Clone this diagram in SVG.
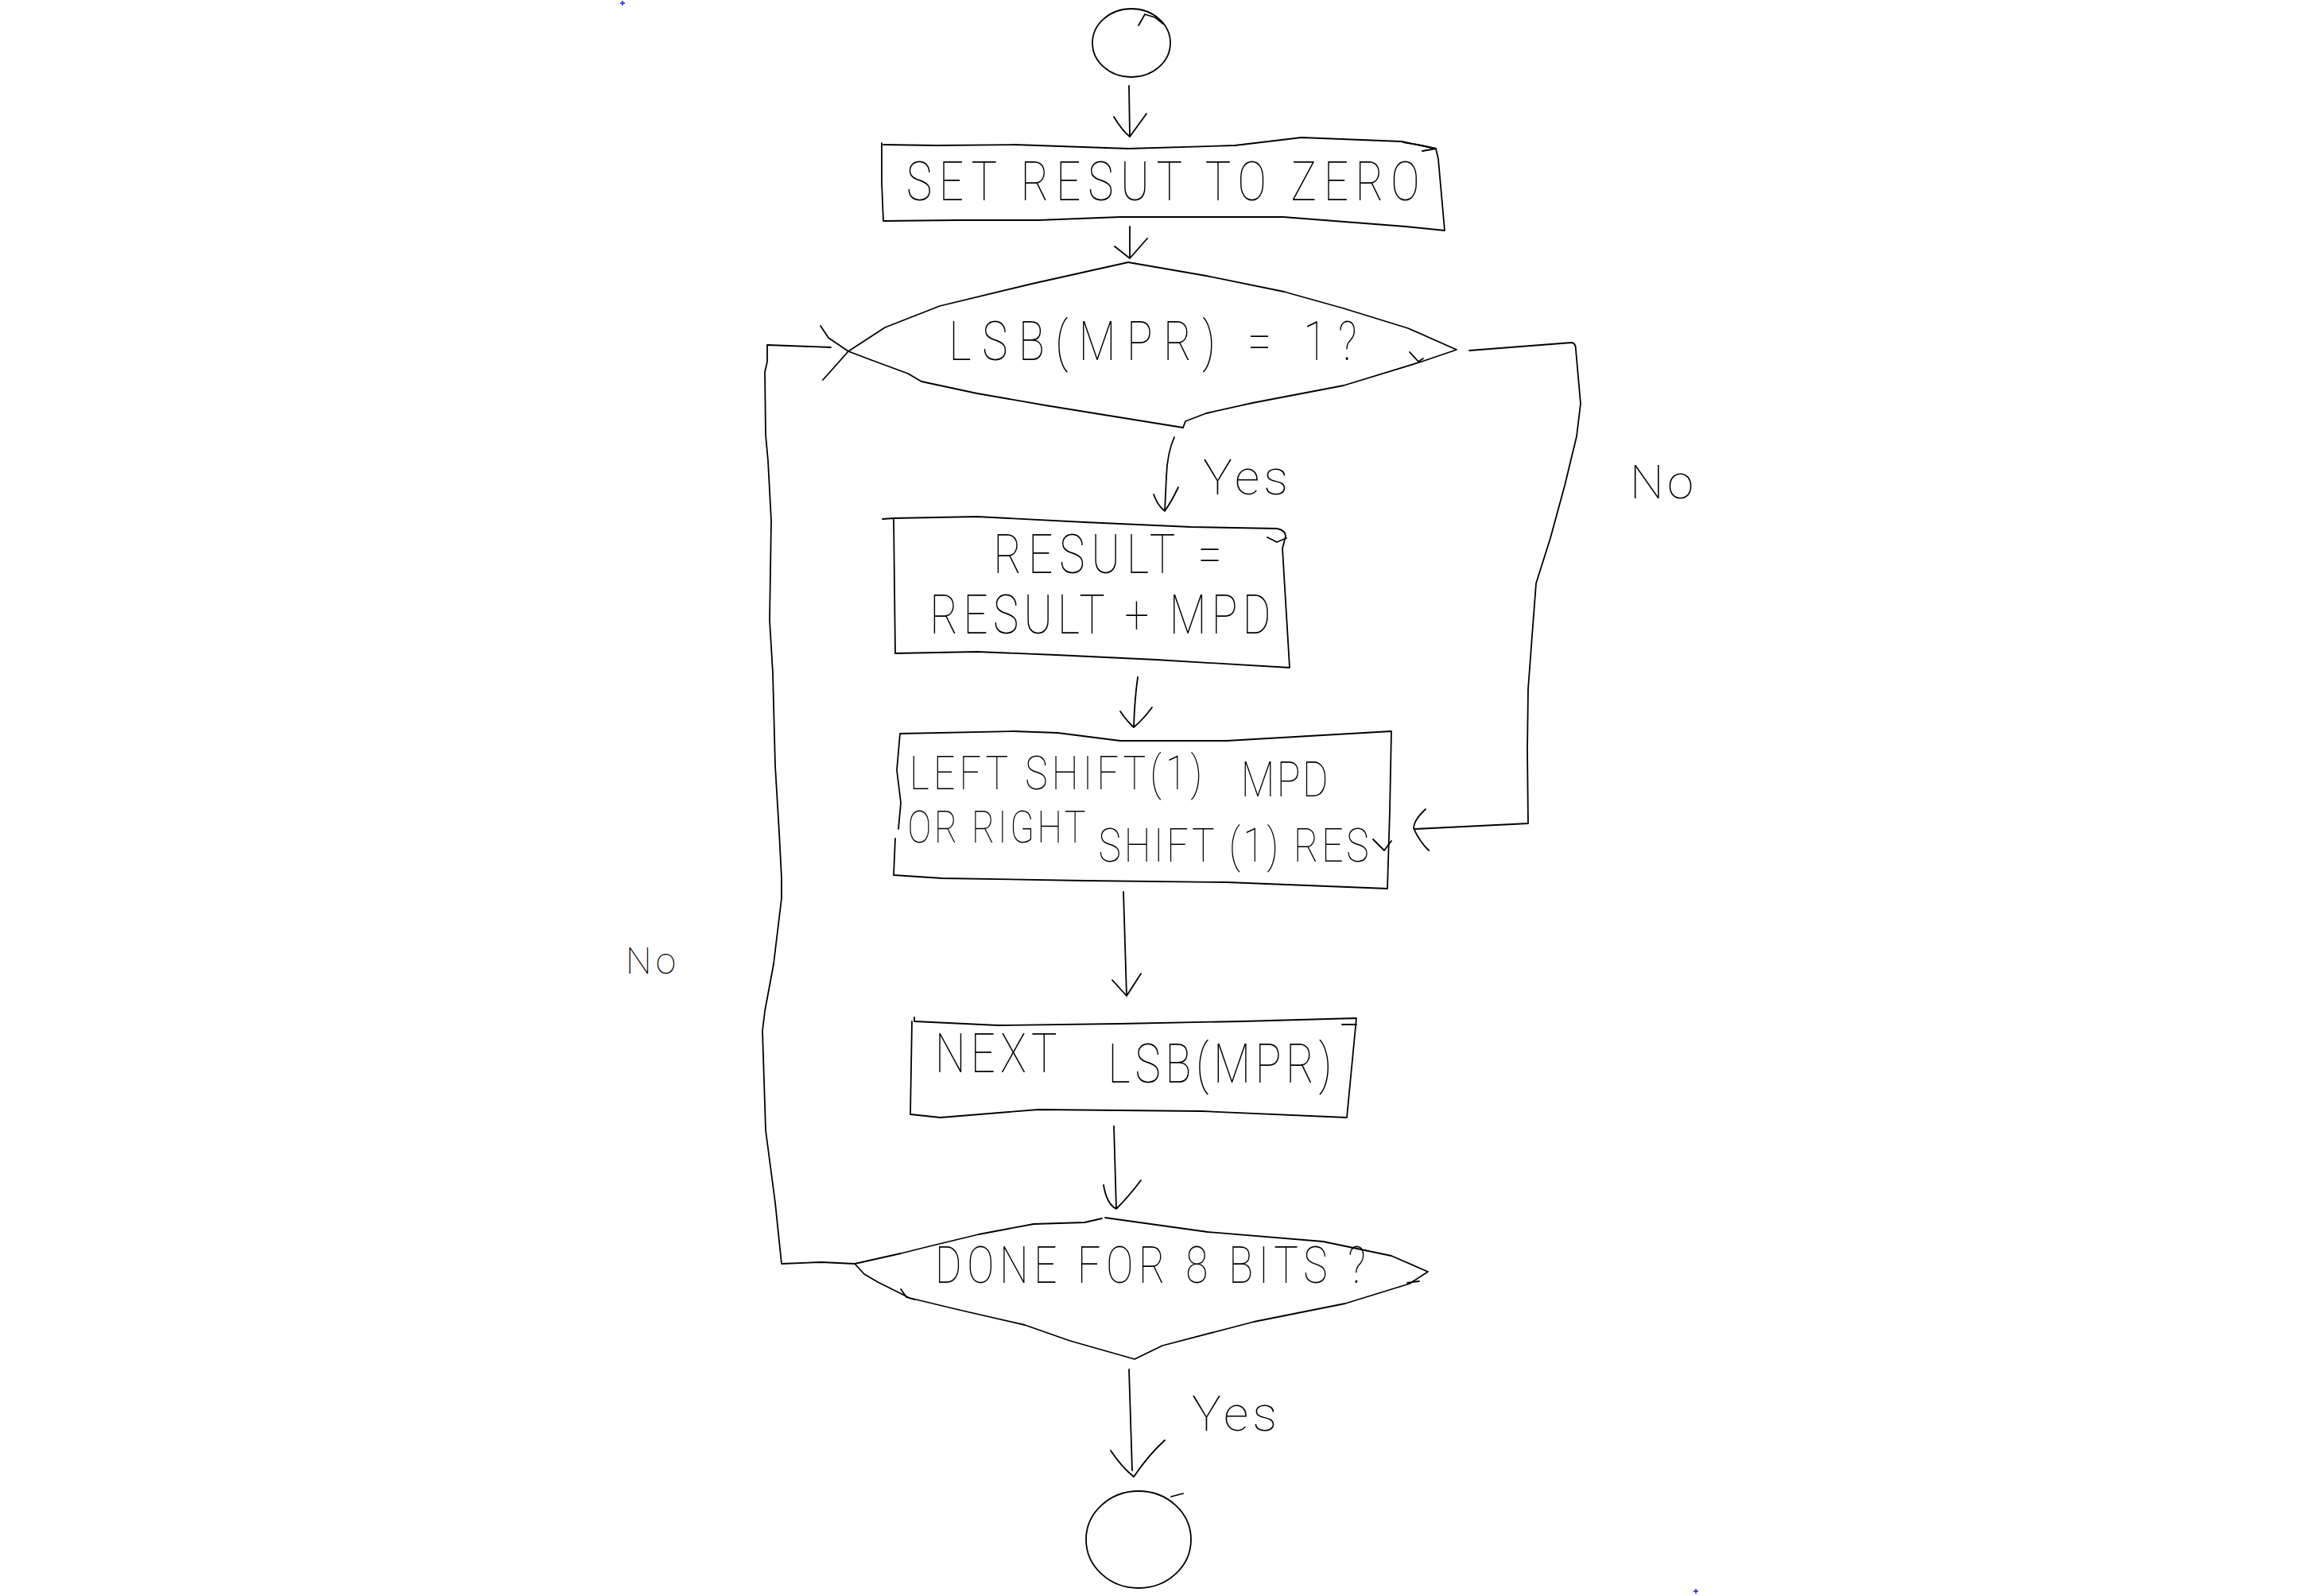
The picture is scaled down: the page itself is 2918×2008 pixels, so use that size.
<svg xmlns="http://www.w3.org/2000/svg" width="2918" height="2008" viewBox="0 0 2918 2008">
  <style>
    .ln { fill: none; stroke: #000; stroke-width: 1.8; stroke-linejoin: round; stroke-linecap: round; }
    .t { font-family: Roboto, "Open Sans", "Liberation Sans", sans-serif; font-weight: 100; fill: #000; }
    .mk { fill: none; stroke: #1a1aff; stroke-width: 1.5; }
  </style>
  <rect width="2918" height="2008" fill="#fff"/>

  <!-- corner registration ticks -->
  <path class="mk" d="M780,4 H786 M783,1 V7"/>
  <path class="mk" d="M2130,2002 H2136 M2133,1999 V2005"/>

  <!-- box texts use narrow glyphs: x positions and lengths are in the 0.8-scaled space -->
  <g id="start">
    <ellipse class="ln" cx="1423" cy="54" rx="49" ry="43"/>
    <path class="ln" d="M1432,32 L1440,18 L1453,22 L1463,30"/>
  </g>

  <g id="set-result">
    <path class="ln" d="M1111,182 L1178,183 L1276,182 L1419,187 L1553,183 L1637,173 L1763,178 L1806,187 L1809,200 L1817,290 L1768,285 L1614,273 L1486,273 L1409,273 L1306,277 L1204,277 L1111,278 L1109,230 L1109,180"/>
    <path class="ln" d="M1765,179 L1788,183 L1806,187 M1789,190 L1806,187"/>
    <text class="t" transform="scale(0.8,1)" x="1425" y="252" font-size="68" textLength="807" lengthAdjust="spacing">SET RESUT TO ZERO</text>
  </g>

  <g id="lsb-check">
    <path class="ln" d="M1419,330 L1517,347 L1615,367 L1690,388 L1771,413 L1832,440 L1788,455 L1690,485 L1575,507 L1517,520 L1491,530 L1488,538"/>
    <path class="ln" d="M1488,538 L1315,510 L1229,495 L1159,480 L1142,470 L1096,453 L1067,442 L1042,425 L1032,410"/>
    <path class="ln" d="M1419,330 L1298,357 L1182,385 L1113,412 L1067,442 L1035,478"/>
    <path class="ln" d="M1773,443 L1784,455 L1790,451"/>
    <text class="t" transform="scale(0.8,1)" x="1492" y="453" font-size="68" textLength="641" lengthAdjust="spacing">LSB(MPR) = 1?</text>
  </g>

  <g id="add-mpd">
    <path class="ln" d="M1110,653 L1124,652 L1229,650 L1364,657 L1498,663 L1606,665 Q1617,667 1617,675 L1613,690 L1622,840 L1454,830 L1328,824 L1229,820 L1126,822 L1124,652"/>
    <path class="ln" d="M1594,676 L1606,682 L1618,677"/>
    <text class="t" transform="scale(0.8,1)" x="1562" y="721" font-size="68" textLength="359" lengthAdjust="spacing">RESULT =</text>
    <text class="t" transform="scale(0.8,1)" x="1462" y="797" font-size="68" textLength="536" lengthAdjust="spacing">RESULT + MPD</text>
  </g>

  <g id="shift">
    <path class="ln" d="M1130,1043 L1133,1010 L1128,969 L1132,923 L1274,920 L1330,922 L1409,932 L1543,932 L1750,920 L1748,1020 L1745,1118 L1543,1110 L1364,1108 L1185,1105 L1124,1101 L1126,1055"/>
    <path class="ln" d="M1727,1056 L1741,1070 L1750,1058"/>
    <text class="t" transform="scale(0.8,1)" x="1430" y="993" font-size="60" textLength="460" lengthAdjust="spacing">LEFT SHIFT(1)</text>
    <text class="t" transform="scale(0.8,1)" x="1951" y="1002" font-size="62" textLength="137" lengthAdjust="spacing">MPD</text>
    <text class="t" transform="scale(0.8,1)" x="1427" y="1060" font-size="56" textLength="280" lengthAdjust="spacing">OR RIGHT</text>
    <text class="t" transform="scale(0.8,1)" x="1727" y="1084" font-size="60" textLength="425" lengthAdjust="spacing">SHIFT (1) RES</text>
  </g>

  <g id="next-bit">
    <path class="ln" d="M1150,1280 L1150,1285 L1255,1290 L1409,1288 L1563,1285 L1706,1281 L1694,1406 L1512,1398 L1306,1396 L1183,1406 L1145,1402 L1147,1285"/>
    <path class="ln" d="M1688,1289 L1706,1289"/>
    <text class="t" transform="scale(0.8,1)" x="1470" y="1349" font-size="68" textLength="192" lengthAdjust="spacing">NEXT</text>
    <text class="t" transform="scale(0.8,1)" x="1742" y="1362" font-size="68" textLength="352" lengthAdjust="spacing">LSB(MPR)</text>
  </g>

  <g id="done-check">
    <path class="ln" d="M1386,1533 L1364,1538 L1300,1540 L1231,1553 L1173,1567 L1133,1577 L1075,1590 L1087,1603 L1104,1613 L1144,1633 L1202,1647 L1289,1667 L1346,1687 L1427,1710 L1462,1693 L1577,1663 L1692,1640 L1773,1615 L1796,1600 L1750,1580 L1664,1562 L1519,1550 L1390,1532"/>
    <path class="ln" d="M1133,1622 L1140,1632 L1150,1635 M1770,1614 L1785,1612"/>
    <text class="t" transform="scale(0.8,1)" x="1470" y="1614" font-size="64" textLength="677" lengthAdjust="spacing">DONE FOR 8 BITS ?</text>
  </g>

  <g id="end">
    <ellipse class="ln" cx="1432" cy="1937" rx="66" ry="61"/>
    <path class="ln" d="M1473,1883 L1488,1879"/>
  </g>

  <g id="connectors">
    <!-- start to first box -->
    <path class="ln" d="M1420,108 L1421,172 M1401,147 Q1412,165 1421,172 L1442,143"/>
    <!-- first box to LSB test -->
    <path class="ln" d="M1421,285 L1421,325 M1402,310 L1421,325 L1443,300"/>
    <!-- LSB test: yes -->
    <path class="ln" d="M1477,550 Q1468,570 1467,600 L1465,643 M1451,622 Q1456,636 1465,643 Q1474,630 1482,613"/>
    <!-- LSB test: no, around to the shift box -->
    <path class="ln" d="M1848,441 L1977,431 Q1982,432 1982,440 L1988,508 L1983,549 L1968,611 L1950,677 L1932,734 L1927,800 L1922,867 L1921,944 L1922,1036 L1780,1043 M1793,1018 Q1778,1032 1778,1042 Q1785,1058 1797,1070"/>
    <!-- add box to shift box -->
    <path class="ln" d="M1431,852 Q1427,880 1426,915 M1409,895 Q1418,908 1426,915 Q1438,905 1449,890"/>
    <!-- shift box to next bit -->
    <path class="ln" d="M1413,1122 L1417,1253 M1399,1233 L1417,1253 L1435,1225"/>
    <!-- next bit to done test -->
    <path class="ln" d="M1401,1417 L1404,1521 M1388,1491 Q1392,1515 1404,1521 Q1420,1505 1435,1485"/>
    <!-- done test: no, loop back to LSB test -->
    <path class="ln" d="M1075,1590 L1033,1588 L983,1590 L975,1513 L963,1422 L959,1297 L962,1272 L973,1213 L983,1130 L983,1105 L980,1047 L975,963 L972,847 L968,780 L970,655 L966,580 L963,547 L962,468 L965,455 L965,434 L1045,437"/>
    <!-- done test: yes -->
    <path class="ln" d="M1420,1723 L1424,1850 M1397,1825 Q1410,1845 1426,1858 Q1445,1830 1465,1812"/>
  </g>

  <g id="labels">
    <text class="t" x="1513" y="622" font-size="62" textLength="107" lengthAdjust="spacing">Yes</text>
    <text class="t" x="2050" y="627" font-size="60" textLength="80" lengthAdjust="spacing">No</text>
    <text class="t" x="787" y="1225" font-size="46" textLength="63" lengthAdjust="spacing">No</text>
    <text class="t" x="1499" y="1800" font-size="62" textLength="107" lengthAdjust="spacing">Yes</text>
  </g>
</svg>
